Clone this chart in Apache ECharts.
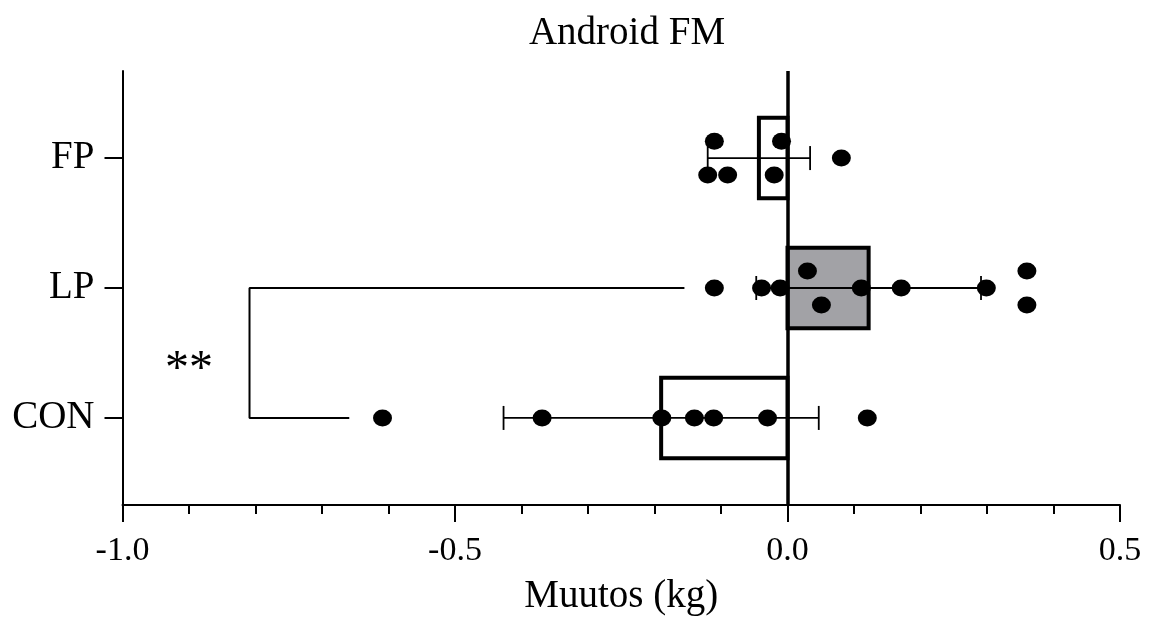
<!DOCTYPE html>
<html>
<head>
<meta charset="utf-8">
<script src="https://cdn.jsdelivr.net/npm/echarts@6/dist/echarts.min.js"></script>
<style>
  html, body { margin: 0; padding: 0; background: #fff; }
  #chart { width: 1150px; height: 621px; }
</style>
</head>
<body>
<div id="chart"></div>
<script>
// groups, bottom to top
var groups = ['CON', 'LP', 'FP'];
var groupMeans = [-0.190, 0.122, -0.043];
var groupSds = [0.237, 0.169, 0.077];

// individual changes (kg); rows = which line of the dot cluster (1 up, 0 middle, -1 down)
var conValues = [-0.609, -0.369, -0.189, -0.140, -0.111, -0.030, 0.120];
var conRows = [0, 0, 0, 0, 0, 0, 0];
var lpValues = [-0.110, -0.039, -0.011, 0.030, 0.051, 0.111, 0.171, 0.299, 0.360, 0.360];
var lpRows = [0, 0, 0, 1, -1, 0, 0, 0, 1, -1];
var fpValues = [-0.110, -0.009, 0.081, -0.120, -0.090, -0.020];
var fpRows = [1, 1, 0, -1, -1, -1];

// significance bracket LP vs CON
var bracketPath = [[-0.155, 1], [-0.809, 1], [-0.809, 0], [-0.659, 0]];
var starText = '**';
var starPos = [-0.90, 0.44];

var serif = '"Liberation Serif", "DejaVu Serif", serif';
var barFill = ['#ffffff', '#a2a2a6', '#ffffff'];
var halfBar = 0.31;
var rowStep = 0.13;

function dots(values, rows, g) {
  return values.map(function (v, i) { return [v, g + rows[i] * rowStep]; });
}
var dotData = dots(conValues, conRows, 0)
  .concat(dots(lpValues, lpRows, 1))
  .concat(dots(fpValues, fpRows, 2));

var chart = echarts.init(document.getElementById('chart'));
chart.setOption({
  animation: false,
  backgroundColor: '#fff',
  title: {
    text: 'Android FM',
    left: 622,
    textAlign: 'center',
    top: 9,
    textStyle: { fontFamily: serif, fontSize: 39, fontWeight: 'normal', color: '#000' }
  },
  grid: { left: 122.5, right: 30, top: 71, bottom: 113 },
  xAxis: {
    type: 'value',
    min: -1,
    max: 0.5,
    interval: 0.5,
    name: 'Muutos (kg)',
    nameLocation: 'middle',
    nameGap: 72,
    nameTextStyle: { fontFamily: serif, fontSize: 39, color: '#000' },
    axisLine: { onZero: false, lineStyle: { color: '#000', width: 2 } },
    axisTick: { length: 17, lineStyle: { color: '#000', width: 2 } },
    minorTick: { show: true, splitNumber: 5, length: 9, lineStyle: { color: '#000', width: 2 } },
    splitLine: { show: false },
    axisLabel: {
      margin: 29,
      fontFamily: serif,
      fontSize: 34,
      color: '#000',
      formatter: function (v) { return v.toFixed(1); }
    }
  },
  yAxis: {
    type: 'value',
    min: -0.67,
    max: 2.67,
    axisLine: { onZero: false, lineStyle: { color: '#000', width: 2 } },
    axisTick: { customValues: [0, 1, 2], length: 18, lineStyle: { color: '#000', width: 2 } },
    splitLine: { show: false },
    axisLabel: {
      customValues: [0, 1, 2],
      margin: 28,
      fontFamily: serif,
      fontSize: 39,
      color: '#000',
      formatter: function (v) { return groups[Math.round(v)]; }
    }
  },
  series: [
    {
      // significance bracket
      type: 'line',
      data: bracketPath,
      symbol: 'none',
      silent: true,
      z: 1,
      lineStyle: { color: '#000', width: 2 }
    },
    {
      // mean bars
      type: 'custom',
      z: 2,
      silent: true,
      data: groupMeans.map(function (m, i) { return [m, i]; }),
      renderItem: function (params, api) {
        var g = api.value(1);
        var a = api.coord([0, g + halfBar]);
        var b = api.coord([api.value(0), g - halfBar]);
        return {
          type: 'rect',
          shape: {
            x: Math.min(a[0], b[0]), y: Math.min(a[1], b[1]),
            width: Math.abs(b[0] - a[0]), height: Math.abs(b[1] - a[1])
          },
          style: { fill: barFill[params.dataIndex], stroke: '#000', lineWidth: 4 }
        };
      }
    },
    {
      // SD whiskers + zero line
      type: 'custom',
      z: 3,
      silent: true,
      data: groupMeans.map(function (m, i) { return [i, m - groupSds[i], m + groupSds[i]]; }),
      renderItem: function (params, api) {
        var lo = api.coord([api.value(1), api.value(0)]);
        var hi = api.coord([api.value(2), api.value(0)]);
        var st = { stroke: '#000', lineWidth: 1.8 };
        return {
          type: 'group',
          children: [
            { type: 'line', shape: { x1: lo[0], y1: lo[1], x2: hi[0], y2: hi[1] }, style: st },
            { type: 'line', shape: { x1: lo[0], y1: lo[1] - 12, x2: lo[0], y2: lo[1] + 12 }, style: st },
            { type: 'line', shape: { x1: hi[0], y1: hi[1] - 12, x2: hi[0], y2: hi[1] + 12 }, style: st }
          ]
        };
      },
      markLine: {
        silent: true,
        symbol: 'none',
        label: { show: false },
        lineStyle: { color: '#000', width: 3.5, type: 'solid' },
        data: [{ xAxis: 0 }]
      }
    },
    {
      // individual points
      type: 'scatter',
      z: 5,
      silent: true,
      symbol: 'circle',
      symbolSize: [19, 17],
      itemStyle: { color: '#000', opacity: 1 },
      data: dotData
    },
    {
      // significance stars
      type: 'custom',
      z: 6,
      silent: true,
      data: [starPos],
      renderItem: function (params, api) {
        var p = api.coord([api.value(0), api.value(1)]);
        return {
          type: 'text',
          x: p[0],
          y: p[1] + 10,
          style: {
            text: starText,
            fontFamily: serif,
            fontSize: 48,
            fill: '#000',
            align: 'center',
            verticalAlign: 'middle'
          }
        };
      }
    }
  ]
});
</script>
</body>
</html>
